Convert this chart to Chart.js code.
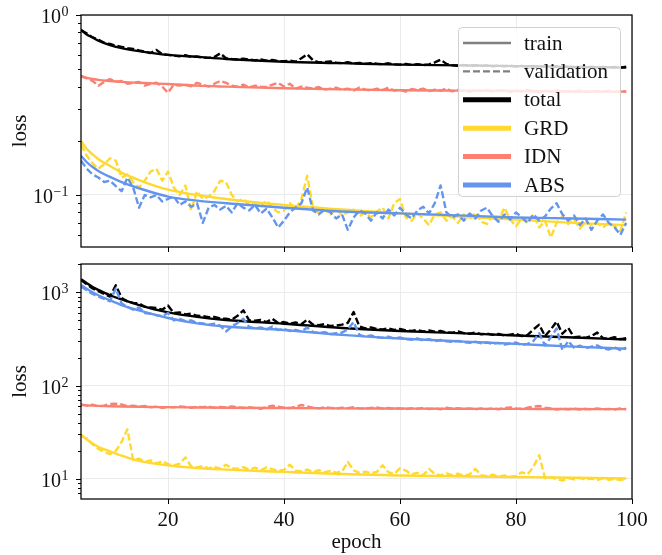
<!DOCTYPE html>
<html lang="en">
<head>
<meta charset="UTF-8">
<title>loss curves</title>
<script src="https://cdn.jsdelivr.net/npm/chart.js"></script>
<style>
  html, body { margin: 0; padding: 0; background: #fff; }
  body { width: 662px; height: 555px; position: relative; overflow: hidden; }
  canvas { position: absolute; left: 0; }
  #top { top: 0; }
  #bottom { top: 256px; }
</style>
</head>
<body>
<canvas id="top" width="662" height="256"></canvas>
<canvas id="bottom" width="662" height="299"></canvas>
<script>
const seriesNames = ['total', 'GRD', 'IDN', 'ABS'];
const seriesColors = ['#000000', '#FFD92F', '#FA8072', '#6495ED'];
const xTicks = [20, 40, 60, 80, 100];
const topExps = [-1, 0];
const bottomExps = [1, 2, 3];

const trainEpochs = [5, 6, 7, 8, 10, 12, 15, 20, 25, 30, 40, 50, 60, 70, 80, 90, 99];
const valEpochs = Array.from({length: 95}, (_, i) => i + 5);

// top panel
const topTotalTrain = [0.83, 0.78, 0.75, 0.72, 0.68, 0.655, 0.63, 0.60, 0.585, 0.57, 0.55, 0.54, 0.53, 0.525, 0.52, 0.515, 0.51];
const topGrdTrain = [0.20, 0.18, 0.168, 0.158, 0.145, 0.133, 0.121, 0.107, 0.100, 0.095, 0.088, 0.083, 0.079, 0.076, 0.073, 0.070, 0.068];
const topIdnTrain = [0.455, 0.447, 0.441, 0.436, 0.43, 0.425, 0.42, 0.414, 0.405, 0.40, 0.392, 0.386, 0.382, 0.38, 0.378, 0.376, 0.375];
const topAbsTrain = [0.165, 0.152, 0.143, 0.136, 0.126, 0.118, 0.109, 0.098, 0.093, 0.090, 0.085, 0.081, 0.079, 0.077, 0.075, 0.074, 0.073];

const topTotalVal = [
  0.82, 0.79, 0.75, 0.73, 0.70, 0.69, 0.675, 0.665, 0.655, 0.648,
  0.635, 0.625, 0.615, 0.64, 0.605, 0.60, 0.595, 0.59, 0.598, 0.585,
  0.588, 0.58, 0.578, 0.585, 0.612, 0.575, 0.57, 0.566, 0.572, 0.565,
  0.56, 0.567, 0.558, 0.562, 0.555, 0.553, 0.558, 0.55, 0.575, 0.605,
  0.56, 0.545, 0.548, 0.552, 0.543, 0.54, 0.546, 0.538, 0.542, 0.535,
  0.54, 0.536, 0.533, 0.539, 0.532, 0.53, 0.535, 0.528, 0.533, 0.527,
  0.532, 0.545, 0.565, 0.535, 0.526, 0.522, 0.528, 0.521, 0.526, 0.52,
  0.525, 0.518, 0.524, 0.519, 0.523, 0.517, 0.522, 0.516, 0.521, 0.515,
  0.52, 0.514, 0.519, 0.513, 0.518, 0.512, 0.517, 0.511, 0.516, 0.51,
  0.515, 0.509, 0.514, 0.51, 0.516
];
const topGrdVal = [
  0.19, 0.165, 0.15, 0.14, 0.148, 0.16, 0.155, 0.125, 0.13, 0.118,
  0.11, 0.12, 0.135, 0.14, 0.12, 0.135, 0.11, 0.10, 0.113, 0.082,
  0.105, 0.095, 0.098, 0.105, 0.12, 0.118, 0.10, 0.092, 0.095, 0.088,
  0.09, 0.086, 0.093, 0.085, 0.08, 0.082, 0.09, 0.083, 0.095, 0.128,
  0.085, 0.079, 0.083, 0.078, 0.084, 0.077, 0.08, 0.083, 0.076, 0.08,
  0.075, 0.081, 0.085, 0.074, 0.09, 0.095, 0.075, 0.072, 0.079, 0.074,
  0.068, 0.078, 0.08, 0.072, 0.076, 0.07, 0.078, 0.073, 0.08, 0.071,
  0.069, 0.077, 0.072, 0.085, 0.073, 0.067, 0.074, 0.07, 0.078, 0.066,
  0.072, 0.058, 0.07, 0.076, 0.069, 0.073, 0.065, 0.071, 0.068, 0.07,
  0.066, 0.07, 0.067, 0.063, 0.08
];
const topIdnVal = [
  0.46, 0.445, 0.43, 0.405, 0.425, 0.44, 0.425, 0.43, 0.415, 0.42,
  0.425, 0.405, 0.415, 0.42, 0.40, 0.37, 0.41, 0.405, 0.41, 0.402,
  0.42, 0.41, 0.40, 0.415, 0.43, 0.42, 0.405, 0.40, 0.41, 0.395,
  0.405, 0.40, 0.398, 0.41, 0.42, 0.40, 0.415, 0.39, 0.40, 0.395,
  0.39, 0.398, 0.385, 0.39, 0.395, 0.385, 0.39, 0.38, 0.395, 0.385,
  0.38, 0.39, 0.383, 0.395, 0.38, 0.385, 0.375, 0.388, 0.383, 0.39,
  0.378, 0.385, 0.38, 0.39, 0.376, 0.383, 0.38, 0.374, 0.385, 0.378,
  0.383, 0.375, 0.38, 0.385, 0.373, 0.38, 0.376, 0.384, 0.377, 0.372,
  0.38, 0.375, 0.382, 0.374, 0.379, 0.373, 0.381, 0.376, 0.372, 0.379,
  0.374, 0.38, 0.373, 0.377, 0.376
];
const topAbsVal = [
  0.155, 0.14, 0.13, 0.125, 0.118, 0.12, 0.112, 0.105, 0.125, 0.11,
  0.085, 0.10, 0.097, 0.10, 0.092, 0.095, 0.098, 0.088, 0.092, 0.086,
  0.09, 0.07, 0.085, 0.088, 0.083, 0.087, 0.08, 0.09, 0.085, 0.082,
  0.088, 0.079, 0.084, 0.075, 0.066, 0.072, 0.08, 0.085, 0.09, 0.11,
  0.082, 0.078, 0.083, 0.08, 0.074, 0.078, 0.064, 0.075, 0.082, 0.079,
  0.072, 0.08, 0.074, 0.083, 0.077, 0.085, 0.078, 0.074, 0.082, 0.086,
  0.079, 0.09, 0.113, 0.08, 0.075, 0.078, 0.072, 0.079, 0.074, 0.082,
  0.085, 0.076, 0.071, 0.078, 0.073, 0.08, 0.075, 0.07, 0.078, 0.072,
  0.076, 0.084, 0.09, 0.078, 0.072, 0.077, 0.068, 0.074, 0.064, 0.072,
  0.078, 0.07, 0.066, 0.06, 0.07
];

// bottom panel
const botTotalTrain = [1380, 1250, 1140, 1060, 930, 840, 730, 610, 545, 505, 460, 415, 385, 365, 345, 328, 312];
const botGrdTrain = [30, 26.5, 24, 22, 19.8, 17.8, 15.6, 14.0, 13.1, 12.6, 11.9, 11.3, 10.9, 10.7, 10.5, 10.3, 10.1];
const botIdnTrain = [62, 61.5, 61, 60.7, 60.2, 59.8, 59.3, 58.8, 58.4, 58, 57.5, 57.1, 56.8, 56.5, 56.3, 56.1, 56];
const botAbsTrain = [1200, 1090, 1000, 930, 820, 730, 640, 530, 465, 430, 395, 350, 320, 298, 280, 262, 248];

const botTotalVal = [
  1350, 1220, 1100, 1030, 960, 900, 1190, 870, 800, 770,
  760, 700, 690, 680, 650, 720, 600, 610, 580, 590,
  560, 555, 540, 545, 525, 520, 510, 560, 640, 500,
  495, 505, 480, 520, 470, 480, 460, 475, 455, 510,
  450, 445, 455, 435, 440, 450, 470, 615, 430, 410,
  420, 405, 400, 410, 395, 405, 390, 385, 395, 380,
  390, 378, 385, 372, 370, 380, 365, 360, 370, 355,
  362, 350, 358, 345, 352, 360, 340, 350, 400, 450,
  340, 400, 485, 360, 415, 330, 335, 325, 340, 370,
  322, 318, 330, 315, 322
];
const botGrdVal = [
  29, 27, 23.5, 21, 19.5, 18.5, 20, 25, 34, 16,
  16.5, 15.3, 15.8, 14.7, 15.5, 14.4, 14, 14.6, 17, 13.6,
  13.3, 13.8, 13, 13.5, 12.9, 14.2, 13.1, 12.8, 13.4, 12.6,
  13.2, 12.4, 13.3, 12.7, 12.2, 12.5, 14.2, 12.3, 12.1, 12.6,
  11.9, 12.4, 11.8, 12.2, 11.7, 12.0, 15.2, 12.4, 11.6, 12.0,
  11.5, 11.9, 14, 11.8, 11.3, 13, 12.3, 11.2, 11.6, 11.0,
  12.8, 11.3, 10.9, 11.5, 11.0, 11.4, 10.8, 11.2, 12.8, 11.0,
  10.7, 11.1, 10.6, 10.9, 10.5, 10.8, 11.8, 11.2, 13.5, 18,
  10.2, 10.4, 10.0, 9.6, 10.2, 9.9, 10.3, 9.8, 10.1, 9.7,
  10.2, 9.8, 10.0, 9.7, 10.0
];
const botIdnVal = [
  63, 61, 62.5, 60, 61, 63.5, 64, 63, 60, 61,
  59.5, 60.5, 58.5, 59.5, 58, 59, 58.5, 60, 59, 58,
  59.5, 58.8, 59.7, 57.8, 59, 58.3, 60, 58.5, 57.5, 58.8,
  57.5, 56.5, 59, 61, 59.5, 58, 57.5, 59.5, 62, 60,
  58, 57, 58.5, 57.8, 56.8, 58, 57.3, 58.7, 57, 56.5,
  57.8, 58.5, 56.8, 57.5, 56.3, 57, 56, 57.2, 56.6, 57.8,
  56.2, 57, 55.8, 58, 56.5, 57.3, 56.1, 56.8, 55.7, 57,
  56, 56.9, 55.9, 57.5, 58.5, 57, 56.2, 58, 59.5, 60.5,
  58, 56.8, 55.5, 56.5, 55.8, 56.6, 55.5, 56.4, 55.6, 56.8,
  55.8, 56.3, 55.5, 57, 55.8
];
const botAbsVal = [
  1150, 1050, 960, 900, 850, 800, 1100, 760, 700, 650,
  690, 600, 590, 570, 555, 600, 500, 520, 490, 500,
  470, 465, 450, 460, 440, 380, 430, 470, 520, 425,
  410, 420, 400, 430, 395, 405, 385, 395, 380, 420,
  375, 365, 375, 355, 365, 370, 400, 480, 350, 335,
  345, 330, 325, 335, 320, 328, 315, 310, 320, 305,
  315, 300, 308, 298, 295, 302, 292, 288, 296, 284,
  290, 280, 287, 276, 283, 290, 272, 280, 300, 365,
  270, 330, 410, 240, 300, 255, 268, 252, 262, 270,
  250, 244, 258, 240, 255
];

const FONT = '"Liberation Serif", "DejaVu Serif", serif';
const DASH = [7, 3];
const LW = 2.4;

function pts(xs, ys) {
  return ys.map((y, i) => ({x: xs[i], y: y}));
}

function makeDatasets(train, val) {
  const out = [];
  seriesNames.forEach((name, i) => {
    out.push({
      label: name + ' train',
      data: pts(trainEpochs, train[i]),
      borderColor: seriesColors[i],
      borderWidth: LW,
      cubicInterpolationMode: 'monotone'
    });
    out.push({
      label: name + ' validation',
      data: pts(valEpochs, val[i]),
      borderColor: seriesColors[i],
      borderWidth: LW,
      borderDash: DASH
    });
  });
  // first dataset is drawn on top in Chart.js, so flip
  return out.reverse();
}

// ticks, tick labels, axis titles and frame
const axesDeco = {
  id: 'axesDeco',
  afterDraw(chart, args, o) {
    const {ctx, chartArea: a} = chart;
    const y = chart.scales.y, x = chart.scales.x;
    ctx.save();
    ctx.strokeStyle = '#000';
    ctx.fillStyle = '#111';
    ctx.lineWidth = 1;
    for (let d = Math.floor(Math.log10(y.min)); d <= Math.ceil(Math.log10(y.max)); d++) {
      for (let m = 1; m < 10; m++) {
        const v = m * Math.pow(10, d);
        if (v < y.min || v > y.max * 1.0001) continue;
        const py = Math.round(y.getPixelForValue(v)) + 0.5;
        const len = m === 1 ? 5 : 3;
        ctx.beginPath();
        ctx.moveTo(a.left - len, py);
        ctx.lineTo(a.left, py);
        ctx.stroke();
      }
    }
    o.exps.forEach(e => {
      const py = y.getPixelForValue(Math.pow(10, e));
      const sup = e < 0 ? '\u2212' + (-e) : String(e);
      const right = a.left - 12.5;
      ctx.textAlign = 'right';
      ctx.textBaseline = 'alphabetic';
      ctx.font = '14px ' + FONT;
      ctx.fillText(sup, right, py + 1);
      const w = ctx.measureText(sup).width;
      ctx.font = '20px ' + FONT;
      ctx.fillText('10', right - w - 0.5, py + 8);
    });
    ctx.save();
    ctx.translate(20, (a.top + a.bottom) / 2);
    ctx.rotate(-Math.PI / 2);
    ctx.font = '21px ' + FONT;
    ctx.textAlign = 'center';
    ctx.textBaseline = 'middle';
    ctx.fillText('loss', 0, 0);
    ctx.restore();
    if (o.xLabels) {
      ctx.font = '21px ' + FONT;
      ctx.textAlign = 'center';
      ctx.textBaseline = 'alphabetic';
      xTicks.forEach(v => ctx.fillText(String(v), x.getPixelForValue(v), a.bottom + 27));
      ctx.fillText('epoch', (a.left + a.right) / 2, a.bottom + 49);
    }
    ctx.lineWidth = 1.25;
    ctx.strokeRect(a.left, a.top, a.right - a.left, a.bottom - a.top);
    ctx.restore();
  }
};

const legendBox = {
  id: 'legendBox',
  afterDatasetsDraw(chart) {
    const ctx = chart.ctx;
    ctx.save();
    ctx.beginPath();
    ctx.roundRect(458.5, 27.5, 162, 169, 4);
    ctx.fillStyle = 'rgba(255,255,255,0.8)';
    ctx.fill();
    ctx.strokeStyle = '#d0d0d0';
    ctx.lineWidth = 1;
    ctx.stroke();
    const rows = [
      {label: 'train', color: '#808080', w: LW, dash: []},
      {label: 'validation', color: '#808080', w: LW, dash: DASH}
    ].concat(seriesNames.map((n, i) => ({label: n, color: seriesColors[i], w: 5, dash: []})));
    rows.forEach((r, k) => {
      const yy = 43 + k * 28.4;
      ctx.beginPath();
      ctx.setLineDash(r.dash);
      ctx.strokeStyle = r.color;
      ctx.lineWidth = r.w;
      ctx.moveTo(463, yy);
      ctx.lineTo(511, yy);
      ctx.stroke();
      ctx.setLineDash([]);
      ctx.fillStyle = '#111';
      ctx.font = '21px ' + FONT;
      ctx.textAlign = 'left';
      ctx.textBaseline = 'middle';
      ctx.fillText(r.label, 524, yy + 1);
    });
    ctx.restore();
  }
};

function makeChart(id, datasets, yMin, yMax, exps, pad, xAxisH, xLabels, extra) {
  return new Chart(document.getElementById(id), {
    type: 'line',
    data: {datasets: datasets},
    options: {
      responsive: false,
      animation: false,
      events: [],
      layout: {padding: pad},
      elements: {
        point: {radius: 0},
        line: {borderJoinStyle: 'round', tension: 0}
      },
      plugins: {
        legend: {display: false},
        tooltip: {enabled: false},
        axesDeco: {exps: exps, xLabels: xLabels}
      },
      scales: {
        x: {
          type: 'linear', min: 5, max: 100,
          afterBuildTicks: s => { s.ticks = xTicks.map(v => ({value: v})); },
          afterFit: s => { s.height = xAxisH; },
          ticks: {display: false},
          grid: {color: '#ebebeb', lineWidth: 1, drawTicks: true, tickLength: 5, tickColor: '#000', tickWidth: 1},
          border: {display: false}
        },
        y: {
          type: 'logarithmic', min: yMin, max: yMax,
          afterBuildTicks: s => { s.ticks = exps.map(e => ({value: Math.pow(10, e)})); },
          afterFit: s => { s.width = 81; },
          ticks: {display: false},
          grid: {color: '#ebebeb', lineWidth: 1, drawTicks: false},
          border: {display: false}
        }
      }
    },
    plugins: [axesDeco].concat(extra)
  });
}

makeChart('top',
  makeDatasets([topTotalTrain, topGrdTrain, topIdnTrain, topAbsTrain], [topTotalVal, topGrdVal, topIdnVal, topAbsVal]),
  0.0514, 1.0, topExps, {left: 0, right: 30, top: 15, bottom: 3}, 6, false, [legendBox]);

makeChart('bottom',
  makeDatasets([botTotalTrain, botGrdTrain, botIdnTrain, botAbsTrain], [botTotalVal, botGrdVal, botIdnVal, botAbsVal]),
  6.1, 2010, bottomExps, {left: 0, right: 30, top: 8, bottom: 0}, 56, true, []);
</script>
</body>
</html>
